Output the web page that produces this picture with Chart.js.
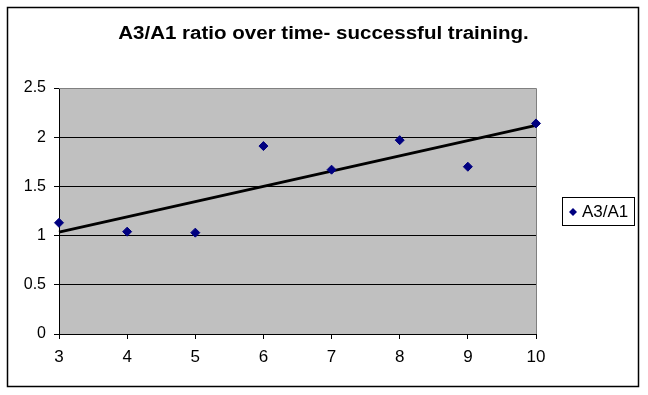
<!DOCTYPE html>
<html>
<head>
<meta charset="utf-8">
<script src="https://cdn.jsdelivr.net/npm/chart.js@4/dist/chart.umd.min.js"></script>
<style>
  html, body { margin:0; padding:0; background:#fff; }
  #wrap { width:648px; height:395px; position:relative; }
</style>
</head>
<body>
<div id="wrap"><canvas id="chart"></canvas></div>
<script>
// values
const chartTitle = 'A3/A1 ratio over time- successful training.';
const seriesLabel = 'A3/A1';
const timePoints = [3, 4, 5, 6, 7, 8, 9, 10];
const ratioValues = [1.13, 1.04, 1.03, 1.91, 1.67, 1.97, 1.70, 2.14];
const trendX = [3, 10];
const trendY = [1.035, 2.12];
const yTicks = [0, 0.5, 1, 1.5, 2, 2.5];

const FONT = '"Liberation Sans", Arial, sans-serif';

// gray plot area + outer frame + title + legend box
const excelLook = {
  id: 'excelLook',
  beforeDraw(chart){
    const { ctx, chartArea: a } = chart;
    ctx.save();
    ctx.fillStyle = '#fff';
    ctx.fillRect(0, 0, chart.width, chart.height);
    ctx.fillStyle = '#c0c0c0';
    ctx.fillRect(a.left, a.top, a.right - a.left, a.bottom - a.top);
    ctx.restore();
  },
  beforeDatasetsDraw(chart){
    const { ctx, chartArea: a } = chart;
    ctx.save();
    // plot border top/right
    ctx.strokeStyle = '#808080';
    ctx.lineWidth = 1;
    ctx.beginPath();
    ctx.moveTo(a.left, a.top + 0.5); ctx.lineTo(a.right + 0.5, a.top + 0.5); ctx.lineTo(a.right + 0.5, a.bottom);
    ctx.stroke();
    ctx.restore();
  },
  afterDraw(chart){
    const { ctx } = chart;
    ctx.save();
    // outer frame
    ctx.strokeStyle = '#000';
    ctx.lineWidth = 1.5;
    ctx.strokeRect(7.5, 7.5, 631, 379);
    // title (slightly wide, like the original)
    ctx.fillStyle = '#000';
    ctx.font = 'bold 18px ' + FONT;
    ctx.textAlign = 'center';
    ctx.textBaseline = 'alphabetic';
    ctx.save();
    ctx.translate(323.5, 39);
    ctx.scale(1.14, 1);
    ctx.fillText(chartTitle, 0, 0);
    ctx.restore();
    // legend
    ctx.lineWidth = 1;
    ctx.strokeRect(562.5, 197.5, 72, 28);
    ctx.fillStyle = '#000080';
    const cx = 573, cy = 212;
    ctx.beginPath();
    ctx.moveTo(cx, cy - 4); ctx.lineTo(cx + 4, cy); ctx.lineTo(cx, cy + 4); ctx.lineTo(cx - 4, cy);
    ctx.closePath(); ctx.fill();
    ctx.fillStyle = '#000';
    ctx.font = '17px ' + FONT;
    ctx.textAlign = 'left';
    ctx.textBaseline = 'middle';
    ctx.fillText(chart.data.datasets[0].label, 582, 212);
    ctx.restore();
  }
};

new Chart(document.getElementById('chart'), {
  type: 'scatter',
  data: {
    datasets: [
      {
        label: seriesLabel,
        data: timePoints.map((x, i) => ({ x, y: ratioValues[i] })),
        backgroundColor: '#000080',
        borderColor: '#000080',
        pointStyle: 'rectRot',
        pointRadius: 4.5,
        pointHoverRadius: 4.5,
        clip: false,
        order: 1
      },
      {
        label: 'trend',
        data: trendX.map((x, i) => ({ x, y: trendY[i] })),
        showLine: true,
        borderColor: '#000',
        borderWidth: 3,
        pointRadius: 0,
        clip: false,
        order: 2
      }
    ]
  },
  options: {
    responsive: true,
    maintainAspectRatio: false,
    animation: false,
    layout: { padding: { top: 88, right: 112, bottom: 30, left: 0 } },
    plugins: { legend: { display: false }, title: { display: false }, tooltip: { enabled: false } },
    scales: {
      x: {
        type: 'linear', min: 3, max: 10,
        afterFit(s){ s.height = 31; },
        afterBuildTicks(s){ s.ticks = timePoints.map(v => ({ value: v })); },
        border: { color: '#000', width: 1 },
        grid: { drawOnChartArea: false, drawTicks: true, tickLength: 5, color: '#000' },
        ticks: { color: '#000', font: { family: FONT, size: 17 }, padding: 8, maxRotation: 0 }
      },
      y: {
        min: 0, max: 2.5,
        afterFit(s){ s.width = 59; },
        afterBuildTicks(s){ s.ticks = yTicks.map(v => ({ value: v })); },
        border: { color: '#000', width: 1 },
        grid: {
          color: c => (c.tick && c.tick.value === 2.5) ? 'rgba(0,0,0,0)' : '#000',
          tickColor: '#000', tickLength: 5
        },
        ticks: { color: '#000', font: { family: FONT, size: 16 }, padding: 8, callback: v => String(v) }
      }
    }
  },
  plugins: [excelLook]
});
</script>
</body>
</html>
